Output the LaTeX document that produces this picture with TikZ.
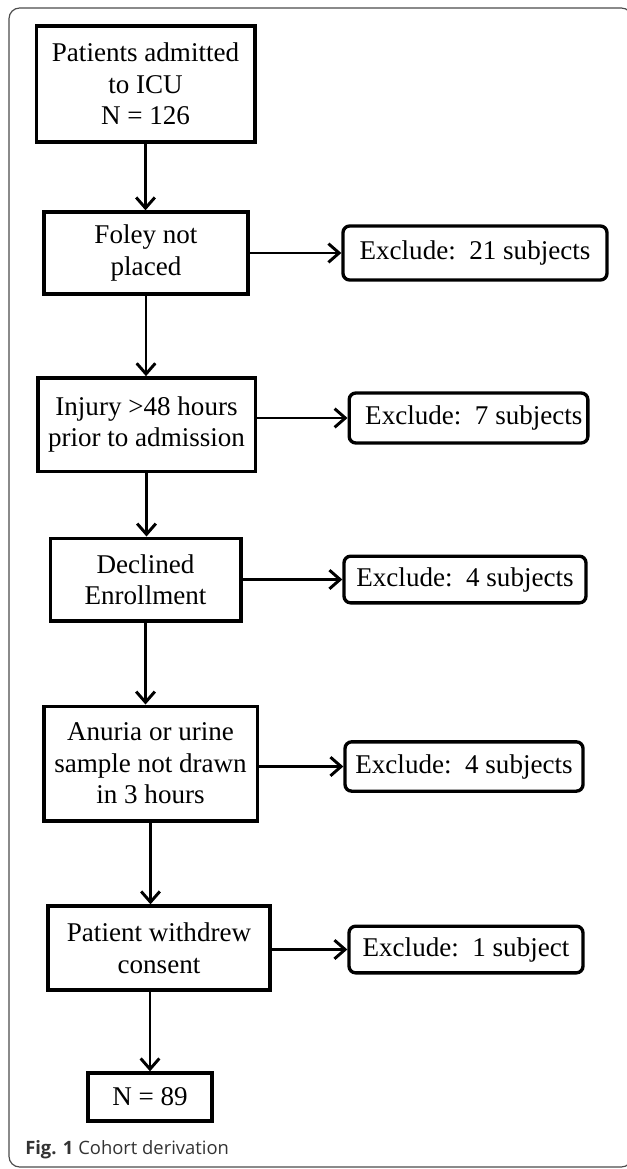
\documentclass[tikz,border=0pt]{standalone}
\usepackage{fontspec}
\setmainfont{Liberation Serif}
\newfontfamily\capfont{Open Sans}
\usetikzlibrary{arrows.meta}

\tikzset{
  stagebox/.style={draw, line width=2.5pt, align=center, inner sep=0.75pt,
    font=\fontsize{20.3}{23.6}\selectfont},
  dropbox/.style={draw, line width=2.5pt, rounded corners=5pt, inner sep=0.75pt,
    font=\fontsize{20.3}{23.6}\selectfont},
  flowarrow/.style={line width=2.2pt, -{Straight Barb[length=8pt,width=14pt]}}
}

\begin{document}
\begin{tikzpicture}[x=0.75pt,y=0.75pt,yscale=-1,xscale=1]
\useasboundingbox (0,0) rectangle (627,1169);
%Frame
\draw [color=black!70, line width=0.9pt, rounded corners=8pt] (9,8) rectangle (632,1167);

% Text Node
\node [stagebox, minimum width=164pt, minimum height=87pt] (adm) at (145.5,84) {Patients admitted\\to ICU\\N = 126};
% Text Node
\node [stagebox, minimum width=153pt, minimum height=61.5pt] (foley) at (146,253) {Foley not\\placed};
% Text Node
\node [stagebox, minimum width=163pt, minimum height=70pt] (injury) at (146.5,424.5) {Injury >48 hours\\prior to admission};
% Text Node
\node [stagebox, minimum width=143pt, minimum height=62pt] (declined) at (145.5,579.5) {Declined\\Enrollment};
% Text Node
\node [stagebox, minimum width=160pt, minimum height=86pt] (anuria) at (150.5,763.5) {Anuria or urine\\sample not drawn\\in 3 hours};
% Text Node
\node [stagebox, minimum width=166.5pt, minimum height=63pt] (withdrew) at (159,948) {Patient withdrew\\consent};
% Text Node
\node [stagebox, minimum width=93pt, minimum height=36pt] (final) at (150,1097) {N = 89};

% Exclusions
\node [dropbox, minimum width=198pt, minimum height=40.5pt] (ex1) at (475,253) {Exclude:\ \ 21 subjects};
\node [dropbox, minimum width=179pt, minimum height=37.5pt] (ex2) at (468.5,418) {\hspace{8pt}Exclude:\ \ 7 subjects};
\node [dropbox, minimum width=181.5pt, minimum height=35pt] (ex3) at (465,579.5) {Exclude:\ \ 4 subjects};
\node [dropbox, minimum width=178.5pt, minimum height=37pt] (ex4) at (464,766.5) {Exclude:\ \ 4 subjects};
\node [dropbox, minimum width=175.5pt, minimum height=35pt] (ex5) at (466,949.5) {Exclude:\ \ 1 subject};

%Straight Lines
\draw [flowarrow] (adm.south) -- (adm.south |- foley.north);
\draw [flowarrow] (foley.south) -- (foley.south |- injury.north);
\draw [flowarrow] (injury.south) -- (injury.south |- declined.north);
\draw [flowarrow] (declined.south) -- (declined.south |- anuria.north);
\draw [flowarrow] (anuria.south) -- (anuria.south |- withdrew.north);
\draw [flowarrow] (final.north |- withdrew.south) -- (final.north);

\draw [flowarrow] (foley.east |- ex1.west) -- (ex1.west);
\draw [flowarrow] (injury.east |- ex2.west) -- (ex2.west);
\draw [flowarrow] (declined.east |- ex3.west) -- (ex3.west);
\draw [flowarrow] (anuria.east |- ex4.west) -- (ex4.west);
\draw [flowarrow] (withdrew.east |- ex5.west) -- (ex5.west);

% Caption
\node [anchor=west, inner sep=0pt, text=black!80, font=\capfont\fontsize{13.8}{16}\selectfont] (caption) at (25,1150) {\textbf{Fig. 1} Cohort derivation};
\end{tikzpicture}
\end{document}
